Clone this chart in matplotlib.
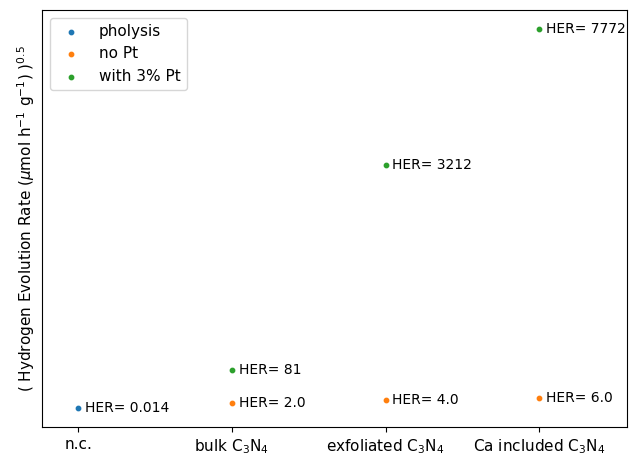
import numpy as np
import matplotlib
matplotlib.use("Agg")
import matplotlib.pyplot as plt

plt.rcParams["font.size"] = 11

categories = ["n.c.", "bulk C$_3$N$_4$", "exfoliated C$_3$N$_4$", "Ca included C$_3$N$_4$"]

# HER values per series (index into categories)
pholysis_idx = [0]
pholysis_her = [0.014]
nopt_idx = [1, 2, 3]
nopt_her = [2.0, 4.0, 6.0]
pt_idx = [1, 2, 3]
pt_her = [81, 3212, 7772]

fig, ax = plt.subplots(figsize=(6.3, 4.55), dpi=100)

series = [
    (pholysis_idx, pholysis_her, "pholysis"),
    (nopt_idx, nopt_her, "no Pt"),
    (pt_idx, pt_her, "with 3% Pt"),
]
for idx, her, lab in series:
    y = np.sqrt(her)
    ax.scatter(idx, y, s=10, label=lab)
    for xi, yi, h in zip(idx, y, her):
        ax.annotate(f"HER= {h}", (xi, yi), xytext=(5, 0), textcoords="offset points",
                    va="center", ha="left", fontsize=10)

ax.set_xticks(range(len(categories)))
ax.set_xticklabels(categories)
ax.set_xlim(-0.234, 3.57)
ax.set_yticks([])
ax.set_ylabel("( Hydrogen Evolution Rate ($\\mu$mol h$^{-1}$ g$^{-1}$) )$^{0.5}$")
ax.legend(loc="upper left")

fig.subplots_adjust(left=0.067, right=0.995, top=0.978, bottom=0.061)
fig.savefig("out.png", dpi=100)
